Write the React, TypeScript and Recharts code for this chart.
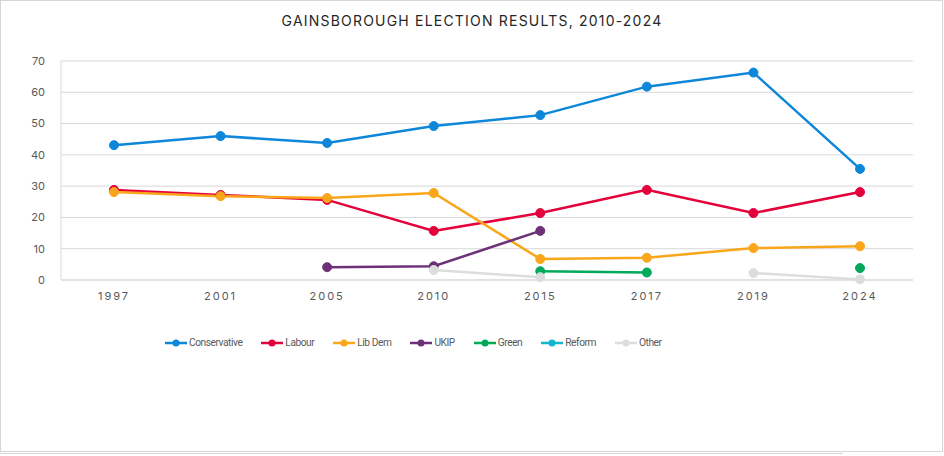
import React from "react"
import { LineChart, Line, XAxis, YAxis, CartesianGrid, Legend } from "recharts"

const years = ["1997", "2001", "2005", "2010", "2015", "2017", "2019", "2024"]
const conservative = [43.1, 46.0, 43.8, 49.2, 52.7, 61.8, 66.3, 35.5]
const labour = [28.8, 27.2, 25.6, 15.7, 21.4, 28.8, 21.4, 28.1]
const libDem = [28.1, 26.8, 26.2, 27.8, 6.7, 7.1, 10.2, 10.8]
const ukip = [null, null, 4.1, 4.4, 15.7, null, null, null]
const green = [null, null, null, null, 2.8, 2.4, null, 3.8]
const reform = [null, null, null, null, null, null, null, null]
const other = [null, null, null, 3.2, 0.9, null, 2.2, 0.2]
const yTicks = [0, 10, 20, 30, 40, 50, 60, 70]

const series = [
  { key: "Conservative", values: conservative, color: "#0C87DA" },
  { key: "Labour", values: labour, color: "#E4003B" },
  { key: "Lib Dem", values: libDem, color: "#FAA61A" },
  { key: "UKIP", values: ukip, color: "#6D3177" },
  { key: "Green", values: green, color: "#02A95B" },
  { key: "Reform", values: reform, color: "#12B6CF" },
  { key: "Other", values: other, color: "#DDDDDD" },
]

const data = years.map((year, i) => {
  const row: Record<string, string | number | null> = { year }
  series.forEach(s => { row[s.key] = s.values[i] })
  return row
})

const FONT = "Inter, 'Liberation Sans', sans-serif"

// legend text in the original is a narrow face, so squeeze Roboto a bit
const CustomLegend = () => (
  <div style={{ display: "flex", alignItems: "center", paddingLeft: 165, fontFamily: "Roboto, sans-serif", fontSize: 10.2, letterSpacing: -0.45, color: "#595959" }}>
    {series.map(s => (
      <div key={s.key} style={{ display: "flex", alignItems: "center", marginRight: 19 }}>
        <svg width={22} height={10} style={{ marginRight: 2 }}>
          <line x1={0} y1={5} x2={22} y2={5} stroke={s.color} strokeWidth={2.5} />
          <circle cx={11} cy={5} r={3.5} fill={s.color} />
        </svg>
        <span>{s.key}</span>
      </div>
    ))}
  </div>
)

export default function App() {
  return (
    <div style={{ position: "absolute", left: 0, top: 0, width: 944, height: 456, background: "#fff" }}>
      <div style={{ position: "absolute", left: 0, top: 0, width: 941, height: 450, border: "1px solid #d6d6d6" }} />
      <div style={{ position: "absolute", left: 0, top: 453, width: 843, height: 0, borderTop: "1px solid #d6d6d6" }} />
      <div style={{ position: "absolute", left: 0, top: 12, width: 944, textAlign: "center", fontFamily: FONT, fontSize: 14, letterSpacing: 1.2, color: "#262626" }}>
        GAINSBOROUGH ELECTION RESULTS, 2010-2024
      </div>
      <div style={{ position: "absolute", left: 0, top: 0 }}>
        <LineChart width={944} height={456} data={data} margin={{ top: 61, right: 31, left: 21, bottom: 146 }}>
          <CartesianGrid vertical={false} stroke="#d9d9d9" />
          <XAxis
            dataKey="year"
            padding={{ left: 53, right: 53 }}
            axisLine={{ stroke: "#d9d9d9" }}
            tickLine={false}
            height={30}
            tickMargin={6}
            tick={{ fill: "#595959", fontSize: 11, fontFamily: FONT, letterSpacing: 2 }}
          />
          <YAxis
            domain={[0, 70]}
            ticks={yTicks}
            width={40}
            axisLine={{ stroke: "#d9d9d9" }}
            tickLine={false}
            tickMargin={10}
            tick={{ fill: "#595959", fontSize: 11, fontFamily: FONT }}
          />
          <Legend
            layout="horizontal"
            verticalAlign="middle"
            content={<CustomLegend />}
            wrapperStyle={{ top: 337, left: 0, width: 944 }}
          />
          {series.map(s => (
            <Line
              key={s.key}
              dataKey={s.key}
              stroke={s.color}
              strokeWidth={2.5}
              dot={{ r: 4.5, fill: s.color, stroke: s.color, strokeWidth: 1 }}
              activeDot={false}
              isAnimationActive={false}
            />
          ))}
        </LineChart>
      </div>
    </div>
  )
}
